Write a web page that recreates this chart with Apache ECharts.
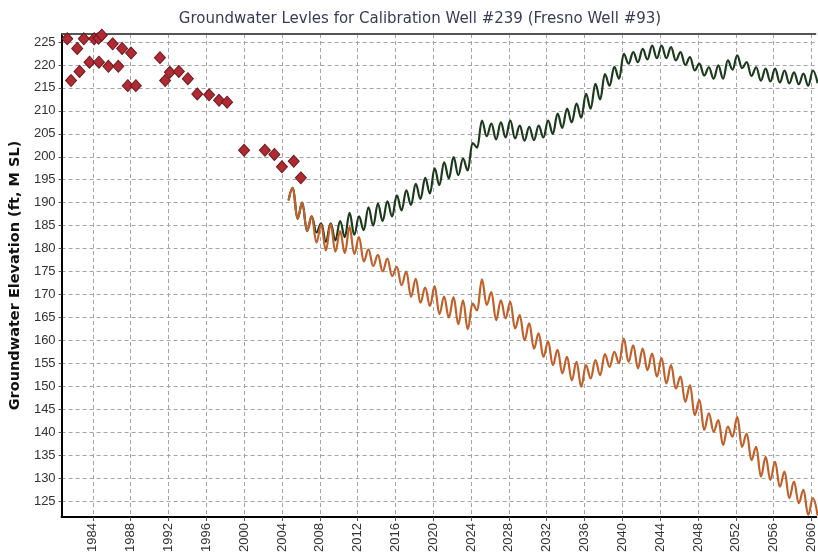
<!DOCTYPE html>
<html>
<head>
<meta charset="utf-8">
<title>Groundwater Levels - Calibration Well #239</title>
<script src="https://cdn.jsdelivr.net/npm/echarts@6/dist/echarts.min.js"></script>
<style>
  html, body { margin: 0; padding: 0; background: #ffffff; }
  #chart { width: 818px; height: 557px; }
</style>
</head>
<body>
<div id="chart"></div>
<script>
// Observed water levels (decimal year, ft MSL)
const obsYears = [1981.3, 1981.7, 1982.35, 1982.6, 1983.05, 1983.65, 1984.15, 1984.6, 1984.95, 1984.65,
  1985.65, 1986.1, 1986.7, 1987.1, 1987.7, 1988.05, 1988.55, 1991.1, 1991.65, 1992.15,
  1993.1, 1994.05, 1995.05, 1996.3, 1997.35, 1998.2, 2000.0, 2002.2, 2003.2, 2004.0,
  2005.25, 2006.0];
const obsLevels = [225.7, 216.6, 223.6, 218.6, 225.7, 220.6, 225.7, 225.8, 226.5, 220.6,
  219.7, 224.6, 219.7, 223.6, 215.5, 222.6, 215.5, 221.6, 216.6, 218.4,
  218.6, 217.0, 213.7, 213.5, 212.3, 211.9, 201.4, 201.4, 200.5, 197.8,
  199.0, 195.4];

// Simulated levels: one seasonal high and one seasonal low per year
const simYears = [2005, 2006, 2007, 2008, 2009, 2010, 2011, 2012, 2013, 2014,
  2015, 2016, 2017, 2018, 2019, 2020, 2021, 2022, 2023, 2024,
  2025, 2026, 2027, 2028, 2029, 2030, 2031, 2032, 2033, 2034,
  2035, 2036, 2037, 2038, 2039, 2040, 2041, 2042, 2043, 2044,
  2045, 2046, 2047, 2048, 2049, 2050, 2051, 2052, 2053, 2054,
  2055, 2056, 2057, 2058, 2059, 2060];

// Green run
const greenHigh = [193.2, 190.0, 187.0, 185.5, 185.5, 186.0, 187.8, 187.0, 189.0, 189.8,
  190.3, 191.6, 192.7, 194.1, 195.4, 197.5, 198.8, 199.9, 199.6, 203.0,
  207.9, 207.2, 207.5, 207.9, 206.8, 206.5, 206.8, 207.9, 209.4, 210.5,
  211.6, 213.7, 215.9, 218.0, 219.6, 222.4, 222.8, 223.5, 224.2, 224.2,
  223.9, 222.8, 221.7, 220.3, 219.5, 219.9, 221.0, 222.1, 220.6, 219.5,
  219.2, 219.2, 218.8, 218.4, 218.1, 218.8];
const greenLow = [186.5, 183.8, 183.5, 181.5, 181.8, 182.5, 183.0, 184.0, 185.0, 186.0,
  187.0, 188.3, 189.5, 190.8, 192.0, 193.8, 195.3, 196.0, 197.0, 202.0,
  204.5, 203.8, 204.2, 204.0, 203.5, 203.6, 204.2, 205.0, 206.3, 207.5,
  208.5, 210.5, 212.5, 215.5, 217.0, 220.3, 220.6, 221.2, 221.5, 221.5,
  221.0, 220.0, 218.8, 217.7, 217.0, 217.0, 219.0, 219.3, 217.6, 216.6,
  216.4, 216.2, 216.0, 215.8, 215.5, 216.0];

// Orange run
const orangeHigh = [193.2, 190.0, 187.0, 185.2, 185.3, 183.8, 184.7, 182.5, 179.8, 178.6,
  177.8, 176.0, 175.0, 173.4, 171.5, 171.8, 169.5, 169.4, 168.7, 168.0,
  173.3, 170.5, 168.7, 168.4, 165.5, 163.7, 161.5, 159.7, 157.9, 156.4,
  155.3, 154.6, 155.7, 157.0, 157.5, 160.4, 158.9, 158.2, 157.1, 156.1,
  154.6, 152.1, 150.2, 147.0, 144.1, 142.6, 141.2, 143.3, 139.7, 136.8,
  134.6, 133.5, 131.4, 129.2, 127.4, 125.6];
const orangeLow = [186.5, 183.8, 181.3, 179.6, 179.3, 179.0, 178.8, 177.2, 176.2, 175.0,
  174.0, 172.0, 169.5, 168.2, 167.5, 165.7, 165.0, 163.5, 162.4, 166.5,
  167.7, 164.4, 164.8, 162.6, 160.0, 158.2, 156.4, 154.6, 152.8, 151.3,
  149.9, 151.7, 152.4, 154.2, 155.0, 155.3, 153.9, 153.5, 152.1, 150.6,
  149.5, 146.6, 143.7, 140.5, 140.1, 137.2, 139.0, 136.8, 133.9, 130.3,
  129.6, 128.1, 125.6, 124.5, 122.0, 121.8];

// Both runs start from the same initial head
const simStartYear = 2004.7;
const simStartLevel = 190.5;

const yTickValues = [125, 130, 135, 140, 145, 150, 155, 160, 165, 170, 175,
  180, 185, 190, 195, 200, 205, 210, 215, 220, 225];
const xTickValues = [1984, 1988, 1992, 1996, 2000, 2004, 2008, 2012, 2016, 2020,
  2024, 2028, 2032, 2036, 2040, 2044, 2048, 2052, 2056, 2060];

// Seasonal timing within each year (fraction of year)
const HIGH_PHASE = 0.15;
const LOW_PHASE = 0.65;

function seasonalSeries(highs, lows) {
  const pts = [[simStartYear, simStartLevel]];
  simYears.forEach((y, i) => {
    pts.push([y + HIGH_PHASE, highs[i]]);
    pts.push([y + LOW_PHASE, lows[i]]);
  });
  return pts;
}

const observed = obsYears.map((y, i) => [y, obsLevels[i]]);

const FONT = '"Liberation Sans", Arial, sans-serif';
const WIDE_FONT = '"DejaVu Sans", Verdana, sans-serif';
const gridLine = { show: true, lineStyle: { color: '#a4a4a4', width: 1, type: [4, 3] } };

const chart = echarts.init(document.getElementById('chart'), null, { renderer: 'canvas' });
chart.setOption({
  animation: false,
  backgroundColor: '#ffffff',
  title: {
    text: 'Groundwater Levles for Calibration Well #239 (Fresno Well #93)',
    left: 415,
    textAlign: 'center',
    top: 7,
    textStyle: { fontFamily: WIDE_FONT, fontSize: 15, fontWeight: 'normal', color: '#3a3a58' }
  },
  grid: { left: 61, top: 34, right: 0, bottom: 40 },
  xAxis: {
    type: 'value',
    min: 1980.7,
    max: 2060.5,
    axisLine: { show: true, onZero: false, lineStyle: { color: '#000', width: 2 } },
    axisTick: { show: true, customValues: xTickValues, length: 4, lineStyle: { color: '#555' } },
    axisLabel: {
      customValues: xTickValues,
      rotate: 90,
      margin: 6,
      fontFamily: FONT,
      fontSize: 13,
      color: '#333',
      formatter: v => String(Math.round(v))
    },
    splitLine: gridLine
  },
  yAxis: {
    type: 'value',
    min: 121.5,
    max: 226.75,
    name: 'Groundwater Elevation (ft, M SL)',
    nameLocation: 'middle',
    nameGap: 37,
    nameTextStyle: { fontFamily: WIDE_FONT, fontSize: 14.5, fontWeight: 'bold', color: '#111' },
    axisLine: { show: true, onZero: false, lineStyle: { color: '#000', width: 2 } },
    axisTick: { show: true, customValues: yTickValues, length: 3, lineStyle: { color: '#555' } },
    axisLabel: {
      customValues: yTickValues,
      margin: 6,
      fontFamily: FONT,
      fontSize: 13,
      color: '#333'
    },
    splitLine: gridLine
  },
  series: [
    {
      name: 'Top border',
      type: 'line',
      data: [],
      markLine: {
        silent: true,
        symbol: 'none',
        label: { show: false },
        lineStyle: { color: '#555', width: 2, type: 'solid' },
        data: [{ yAxis: 226.75 }]
      }
    },
    {
      name: 'Simulated (green)',
      type: 'line',
      data: seasonalSeries(greenHigh, greenLow),
      showSymbol: false,
      smooth: 0.4,
      smoothMonotone: 'x',
      lineStyle: { color: '#1c3a1c', width: 2.2 },
      z: 3
    },
    {
      name: 'Simulated (orange)',
      type: 'line',
      data: seasonalSeries(orangeHigh, orangeLow),
      showSymbol: false,
      smooth: 0.4,
      smoothMonotone: 'x',
      lineStyle: { color: '#c0602a', width: 2.2 },
      z: 4
    },
    {
      name: 'Observed',
      type: 'scatter',
      data: observed,
      symbol: 'diamond',
      symbolSize: [11, 12],
      itemStyle: { color: '#b02a34', borderColor: '#6a1a1e', borderWidth: 1, opacity: 1 },
      z: 5
    }
  ]
});
</script>
</body>
</html>
